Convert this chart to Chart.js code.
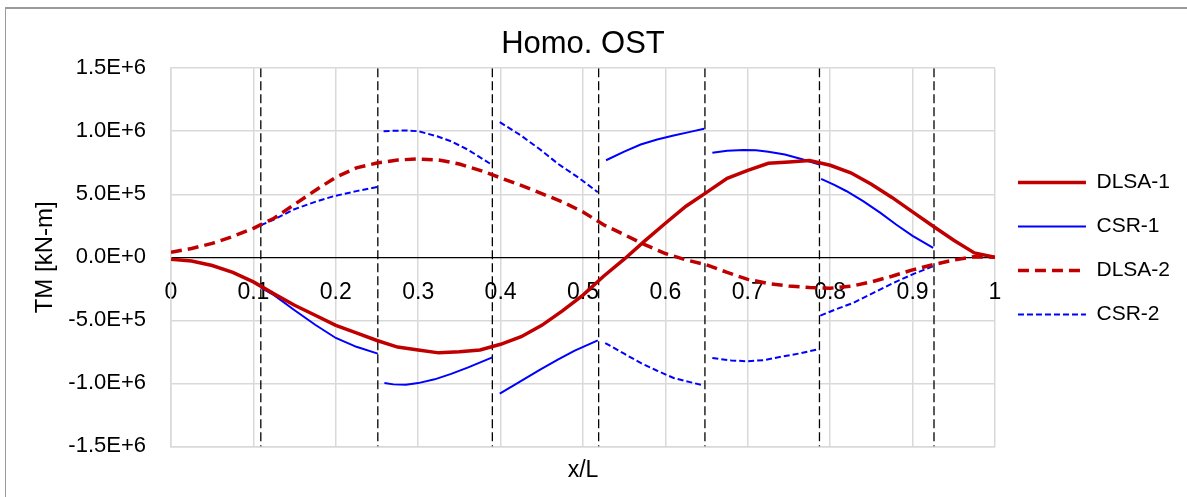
<!DOCTYPE html>
<html>
<head>
<meta charset="utf-8">
<script src="https://cdn.jsdelivr.net/npm/chart.js@4.4.1/dist/chart.umd.min.js"></script>
<style>
  html, body { margin: 0; padding: 0; background: #fff; }
  #wrap { position: relative; width: 1187px; height: 497px; overflow: hidden; }
  #frame { position: absolute; left: 5px; top: 7px; width: 1300px; height: 600px;
           border-top: 2px solid #9a9a9a; border-left: 1px solid #9a9a9a; }
  #tmChart { position: absolute; left: 0; top: 0; }
</style>
</head>
<body>
<div id="wrap"><div id="frame"></div><canvas id="tmChart" width="1187" height="497"></canvas></div>
<script>
// x/L stations for the DLSA curves
const dlsaX = [0, 0.025, 0.05, 0.075, 0.1, 0.125, 0.15, 0.175, 0.2, 0.225, 0.25, 0.275, 0.3, 0.325,
    0.35, 0.375, 0.4, 0.425, 0.45, 0.475, 0.5, 0.525, 0.55, 0.575, 0.6, 0.625, 0.65, 0.675, 0.7,
    0.725, 0.75, 0.775, 0.8, 0.825, 0.85, 0.875, 0.9, 0.925, 0.95, 0.975, 1];
const dlsa1 = [-15000, -30000, -65000, -120000, -195000, -290000, -380000, -460000, -540000,
    -600000, -660000, -712000, -735000, -758000, -750000, -735000, -690000, -630000, -540000,
    -425000, -300000, -150000, -15000, 130000, 270000, 405000, 515000, 627000, 690000, 746000,
    756000, 767000, 730000, 670000, 580000, 475000, 360000, 246000, 135000, 35000, 0];
const dlsa2 = [40000, 70000, 110000, 165000, 230000, 310000, 420000, 530000, 635000, 710000,
    748000, 772000, 780000, 772000, 740000, 690000, 630000, 570000, 505000, 440000, 360000,
    258000, 180000, 100000, 30000, -20000, -60000, -120000, -175000, -208000, -228000, -240000,
    -245000, -230000, -195000, -150000, -100000, -58000, -22000, 5000, 0];

// CSR curves, one piece per section (null breaks the line)
const csr1X = [0.109, 0.125, 0.15, 0.175, 0.2, 0.225, 0.251, null,
    0.259, 0.27, 0.285, 0.3, 0.32, 0.34, 0.36, 0.39, null,
    0.399, 0.42, 0.448, 0.47, 0.49, 0.518, null,
    0.528, 0.55, 0.57, 0.59, 0.61, 0.63, 0.647, null,
    0.657, 0.675, 0.695, 0.71, 0.725, 0.745, 0.765, 0.787, null,
    0.789, 0.805, 0.82, 0.84, 0.861, 0.88, 0.9, 0.925];
const csr1 = [-240000, -300000, -420000, -535000, -640000, -710000, -764000, null,
    -997000, -1008000, -1010000, -998000, -968000, -925000, -875000, -794000, null,
    -1082000, -1000000, -891000, -810000, -740000, -659000, null,
    770000, 838000, 895000, 935000, 966000, 995000, 1019000, null,
    829000, 845000, 852000, 850000, 838000, 815000, 780000, 736000, null,
    622000, 575000, 524000, 445000, 352000, 260000, 170000, 75000];
const csr2X = [0.109, 0.125, 0.149, 0.175, 0.197, 0.225, 0.251, null,
    0.258, 0.272, 0.286, 0.3, 0.323, 0.34, 0.36, 0.387, null,
    0.399, 0.425, 0.448, 0.47, 0.495, 0.518, null,
    0.527, 0.55, 0.57, 0.59, 0.61, 0.63, 0.646, null,
    0.657, 0.68, 0.7, 0.72, 0.743, 0.765, 0.787, null,
    0.788, 0.808, 0.828, 0.85, 0.877, 0.9, 0.925];
const csr2 = [254000, 300000, 379000, 440000, 484000, 525000, 559000, null,
    1000000, 1004000, 1006000, 1000000, 960000, 920000, 855000, 744000, null,
    1072000, 965000, 855000, 740000, 630000, 516000, null,
    -680000, -765000, -838000, -900000, -957000, -990000, -1016000, null,
    -799000, -818000, -825000, -815000, -786000, -760000, -727000, null,
    -463000, -410000, -362000, -290000, -203000, -135000, -71000];

// section boundaries (dashed verticals)
const sectionX = [0.109, 0.251, 0.390, 0.519, 0.648, 0.787, 0.926];
const yRange = [-1500000, 1500000];

const gridColor = '#d9d9d9';
const red = '#c00000';
const blue = '#0000ff';

Chart.defaults.font.family = "'Liberation Sans', Arial, sans-serif";
Chart.defaults.color = '#000';

const pts = (xs, ys) => xs.map((x, i) => ({ x: x === null ? NaN : x, y: ys[i] }));
const sectionPts = [];
sectionX.forEach(x => {
    sectionPts.push({ x: x, y: yRange[1] }, { x: x, y: yRange[0] }, { x: x, y: null });
});

new Chart(document.getElementById('tmChart'), {
    type: 'line',
    data: {
        datasets: [
            { label: 'DLSA-1', data: pts(dlsaX, dlsa1), borderColor: red, borderWidth: 3.5 },
            { label: 'CSR-1', data: pts(csr1X, csr1), borderColor: blue, borderWidth: 2 },
            { label: 'DLSA-2', data: pts(dlsaX, dlsa2), borderColor: red, borderWidth: 3.5, borderDash: [11, 6] },
            { label: 'CSR-2', data: pts(csr2X, csr2), borderColor: blue, borderWidth: 2, borderDash: [6, 3] },
            { label: '', data: sectionPts, borderColor: '#000', borderWidth: 1.3, borderDash: [9, 4] }
        ]
    },
    options: {
        responsive: false,
        animation: false,
        elements: { point: { radius: 0, hoverRadius: 0 }, line: { tension: 0 } },
        layout: { padding: { left: 25, right: 7, top: 0, bottom: 0 } },
        plugins: {
            title: {
                display: true, text: 'Homo. OST', color: '#000', fullSize: false,
                font: { size: 31, weight: 'normal' }, padding: { top: 26, bottom: 5 }
            },
            legend: {
                position: 'right',
                labels: {
                    usePointStyle: true, pointStyleWidth: 68, padding: 23,
                    font: { size: 21 }, color: '#000',
                    generateLabels: chart => chart.data.datasets
                        .map((ds, i) => ({
                            text: ds.label, datasetIndex: i, hidden: false,
                            strokeStyle: ds.borderColor, fillStyle: ds.borderColor,
                            lineWidth: ds.borderWidth, lineDash: ds.borderDash || [],
                            pointStyle: 'line'
                        }))
                        .filter(item => item.text)
                }
            },
            tooltip: { enabled: false }
        },
        scales: {
            x: {
                type: 'linear', position: 'bottom', min: 0, max: 1,
                ticks: { stepSize: 0.1, display: false },
                grid: { color: gridColor, lineWidth: 1.5, drawTicks: false },
                border: { color: gridColor, width: 1.5 },
                title: { display: true, text: 'x/L', color: '#000', font: { size: 23 }, padding: { top: 10, bottom: 13 } }
            },
            xZero: {
                type: 'linear', position: { y: 0 }, min: 0, max: 1,
                ticks: { stepSize: 0.1, padding: 22, font: { size: 23 }, color: '#000',
                    callback: v => String(Math.round(v * 10) / 10) },
                grid: { display: false, drawTicks: false },
                border: { display: false },
                afterFit: scale => { scale.height = 0; }
            },
            y: {
                min: yRange[0], max: yRange[1],
                ticks: { stepSize: 500000, padding: 25, font: { size: 22 }, color: '#000',
                    callback: v => v.toExponential(1).toUpperCase() },
                grid: {
                    color: ctx => (ctx.tick && ctx.tick.value === 0) ? '#000' : gridColor,
                    lineWidth: ctx => (ctx.tick && ctx.tick.value === 0) ? 1.3 : 1.5,
                    drawTicks: false
                },
                border: { color: gridColor, width: 1.5 },
                title: { display: true, text: 'TM [kN-m]', color: '#000', font: { size: 24 }, padding: { top: 6, bottom: 4 } },
                afterFit: scale => { scale.width = 146; }
            }
        }
    }
});
</script>
</body>
</html>
